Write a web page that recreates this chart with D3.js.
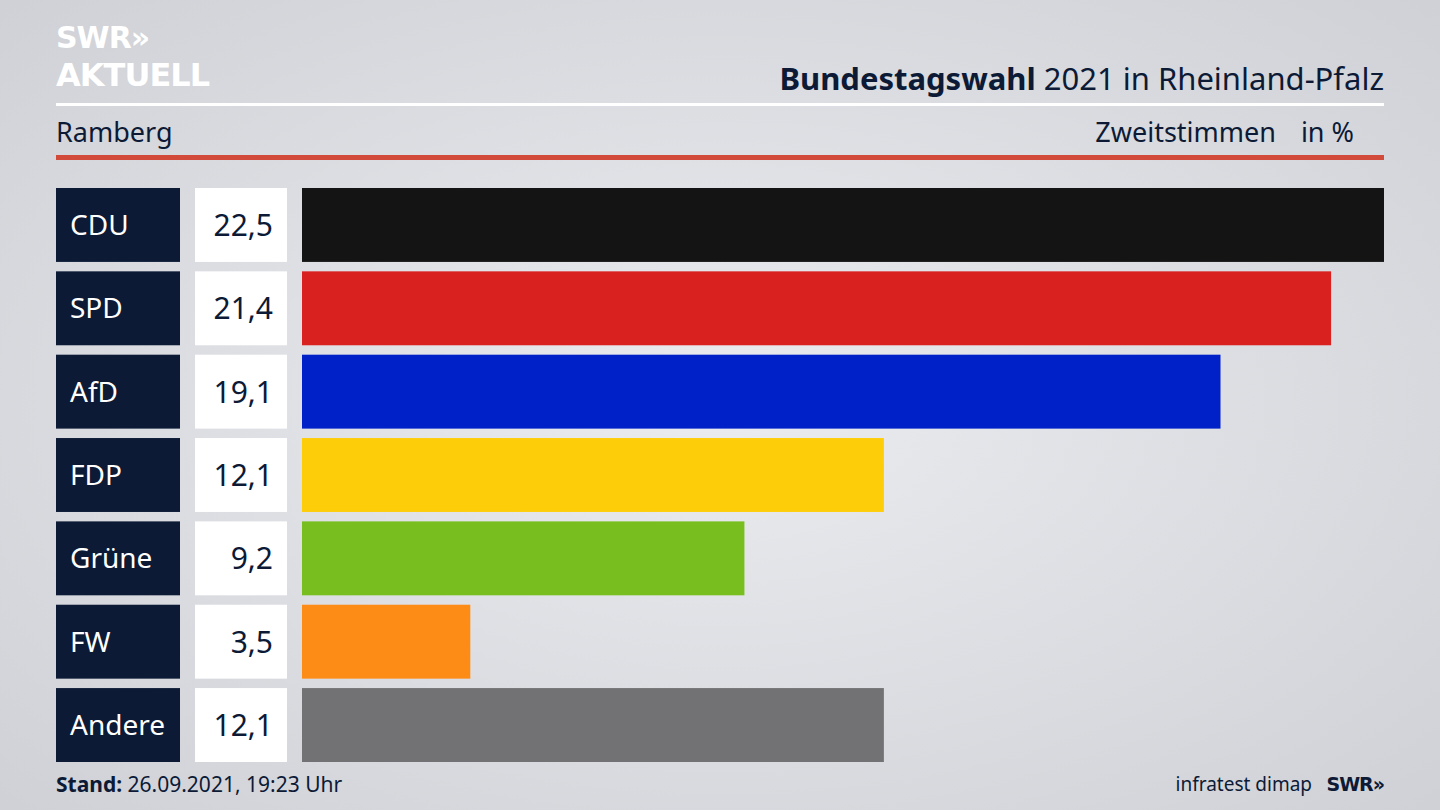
<!DOCTYPE html>
<html><head><meta charset="utf-8">
<script src="https://cdn.jsdelivr.net/npm/d3@7"></script>
<style>body{margin:0;overflow:hidden}svg{display:block}</style>
</head><body><svg id="c" width="1440" height="810"></svg>
<script>
const parties = ["CDU","SPD","AfD","FDP","Grüne","FW","Andere"];
const values = [22.5,21.4,19.1,12.1,9.2,3.5,12.1];
const colors = ["#141414","#d92120","#0021c8","#fecd0a","#78be1e","#fd8c17","#727274"];

const svg = d3.select("#c");
const defs = svg.append("defs");
const g = defs.append("radialGradient").attr("id","bg").attr("cx","50%").attr("cy","50%").attr("r","70%");
g.append("stop").attr("offset","0%").attr("stop-color","#ebecf0");
g.append("stop").attr("offset","100%").attr("stop-color","#cfd1d6");
svg.append("rect").attr("width",1440).attr("height",810).attr("fill","url(#bg)");

const F = "'Noto Sans', 'Open Sans', sans-serif";
const navy = "#0c1a36";
svg.append("text").attr("x",56).attr("y",48).attr("font-family","DejaVu Sans").attr("font-weight","bold").attr("font-size",30).attr("fill","#fff").attr("letter-spacing",-1).text("SWR»");
svg.append("text").attr("x",56).attr("y",86).attr("font-family","DejaVu Sans").attr("font-weight","bold").attr("font-size",32).attr("fill","#fff").attr("letter-spacing",-1).text("AKTUELL");
const t = svg.append("text").attr("x",1384).attr("y",90).attr("text-anchor","end").attr("font-family",F).attr("font-size",31).attr("fill",navy);
t.append("tspan").attr("font-weight","bold").text("Bundestagswahl");
t.append("tspan").text(" 2021 in Rheinland-Pfalz");
svg.append("rect").attr("x",56).attr("y",103).attr("width",1328).attr("height",3).attr("fill","#fff");
svg.append("text").attr("x",56).attr("y",142).attr("font-family",F).attr("font-size",27).attr("fill",navy).text("Ramberg");
svg.append("text").attr("x",1276).attr("y",142).attr("text-anchor","end").attr("font-family",F).attr("font-size",27).attr("fill",navy).text("Zweitstimmen");
svg.append("text").attr("x",1354).attr("y",142).attr("text-anchor","end").attr("font-family",F).attr("font-size",27).attr("fill",navy).text("in %");
svg.append("rect").attr("x",56).attr("y",155).attr("width",1328).attr("height",5).attr("fill","#d24b3a");

const y = d3.scaleBand().domain(parties).range([188,762]).paddingInner(0.113).paddingOuter(0);
const x = d3.scaleLinear().domain([0,22.5]).range([302,1384]);
const fmt = v => d3.format(".1f")(v).replace(".",",");
const row = svg.selectAll("g.r").data(parties).join("g");
row.append("rect").attr("x",56).attr("y",d=>y(d)).attr("width",124).attr("height",y.bandwidth()).attr("fill",navy);
row.append("text").attr("x",70).attr("y",d=>y(d)+y.bandwidth()/2+10).attr("font-family",F).attr("font-size",28).attr("fill","#fff").text(d=>d);
row.append("rect").attr("x",195).attr("y",d=>y(d)).attr("width",92).attr("height",y.bandwidth()).attr("fill","#fff");
row.append("text").attr("x",273).attr("y",d=>y(d)+y.bandwidth()/2+11).attr("text-anchor","end").attr("font-family",F).attr("font-size",30).attr("fill",navy).text((d,i)=>fmt(values[i]));
row.append("rect").attr("x",x(0)).attr("y",d=>y(d)).attr("width",(d,i)=>x(values[i])-x(0)).attr("height",y.bandwidth()).attr("fill",(d,i)=>colors[i]);

const s = svg.append("text").attr("x",56).attr("y",792).attr("font-family",F).attr("font-size",21).attr("fill",navy);
s.append("tspan").attr("font-weight","bold").text("Stand:");
s.append("tspan").text(" 26.09.2021, 19:23 Uhr");
svg.append("text").attr("x",1312).attr("y",791).attr("text-anchor","end").attr("font-family",F).attr("font-size",19).attr("fill",navy).text("infratest dimap");
svg.append("text").attr("x",1384).attr("y",791).attr("text-anchor","end").attr("font-family","DejaVu Sans").attr("font-weight","bold").attr("font-size",19).attr("fill",navy).attr("letter-spacing",-1).text("SWR»");
</script></body></html>
